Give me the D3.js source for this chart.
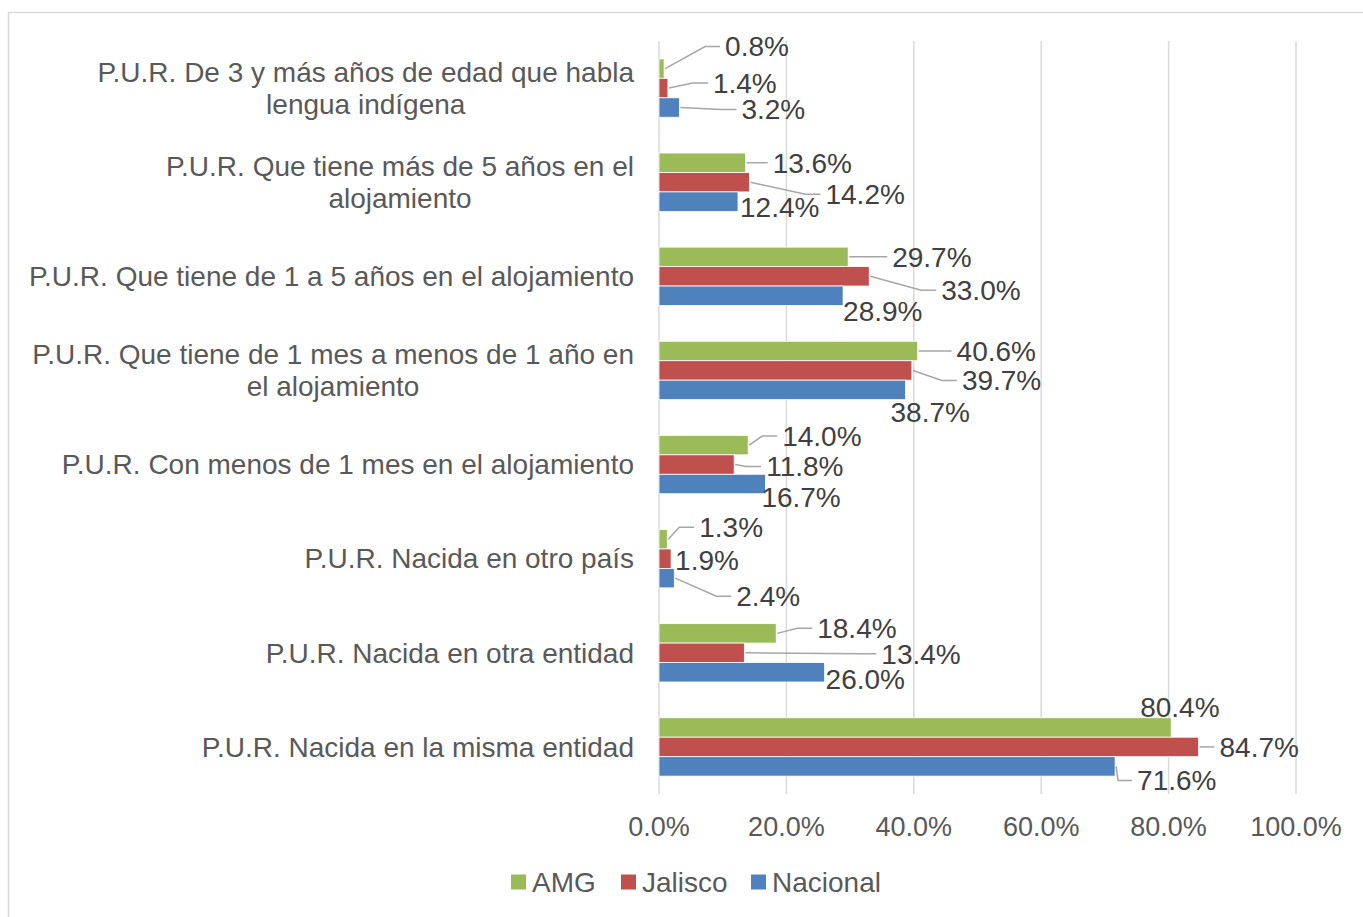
<!DOCTYPE html>
<html>
<head>
<meta charset="utf-8">
<script src="https://cdn.jsdelivr.net/npm/d3@7"></script>
<style>
  body { margin: 0; background: #fff; }
  text { font-family: "Liberation Sans", Arial, sans-serif; }
</style>
</head>
<body>
<div id="vis"></div>
<script>
const width = 1363;
const height = 917;

// categories, top to bottom as they appear
const categories = [
  ["P.U.R. De 3 y más años de edad que habla", "lengua indígena"],
  ["P.U.R. Que tiene más de 5 años en el", "alojamiento"],
  ["P.U.R. Que tiene de 1 a 5 años en el alojamiento"],
  ["P.U.R. Que tiene de 1 mes a menos de 1 año en", "el alojamiento"],
  ["P.U.R. Con menos de 1 mes en el alojamiento"],
  ["P.U.R. Nacida en otro país"],
  ["P.U.R. Nacida en otra entidad"],
  ["P.U.R. Nacida en la misma entidad"]
];

const seriesNames = ["AMG", "Jalisco", "Nacional"];
const amg      = [0.8, 13.6, 29.7, 40.6, 14.0, 1.3, 18.4, 80.4];
const jalisco  = [1.4, 14.2, 33.0, 39.7, 11.8, 1.9, 13.4, 84.7];
const nacional = [3.2, 12.4, 28.9, 38.7, 16.7, 2.4, 26.0, 71.6];
const xTicks = [0, 20, 40, 60, 80, 100];

// where Excel dragged each data label: [dx from bar end, dy from bar middle]
const labelNudge = [
  [[61, -22], [45, -5], [62, 2]],
  [[27, 0], [76, 12], [2, 6]],
  [[44, 0], [72, 14], [0, 15]],
  [[39, 0], [50, 10], [-15, 22]],
  [[34, -9], [32, 2], [-4, 13]],
  [[32, -12], [4, 2], [62, 18]],
  [[41, -5], [137, 1], [1, 7]],
  [[-31, -20], [21, 0], [22, 14]]
];

const colors = ["#9BBB59", "#C0504D", "#4F81BD"];
const seriesValues = [amg, jalisco, nacional];

const svg = d3.select("#vis").append("svg")
  .attr("width", width)
  .attr("height", height);

// chart area border
svg.append("rect")
  .attr("x", 8.5).attr("y", 12.5)
  .attr("width", width).attr("height", height)
  .attr("fill", "#fff")
  .attr("stroke", "#d9d9d9")
  .attr("stroke-width", 1.5);

const plot = { left: 659, right: 1296, top: 41, bottom: 794 };

const x = d3.scaleLinear().domain([0, 100]).range([plot.left, plot.right]);
const y = d3.scaleBand()
  .domain(d3.range(categories.length))
  .range([plot.top, plot.bottom])
  .paddingInner(0.38)
  .paddingOuter(0.19);
const ySub = d3.scaleBand().domain(d3.range(3)).range([0, y.bandwidth()]);

// gridlines
svg.append("g")
  .selectAll("line")
  .data(xTicks)
  .join("line")
  .attr("x1", d => x(d)).attr("x2", d => x(d))
  .attr("y1", plot.top).attr("y2", plot.bottom)
  .attr("stroke", "#d9d9d9")
  .attr("stroke-width", 1.5);

// x tick labels
svg.append("g")
  .selectAll("text")
  .data(xTicks)
  .join("text")
  .attr("x", d => x(d))
  .attr("y", 827)
  .attr("dy", "0.35em")
  .attr("text-anchor", "middle")
  .attr("font-size", 27)
  .attr("fill", "#595959")
  .text(d => d3.format(".1f")(d) + "%");

// category labels (two-line ones are centred on their own block)
const catG = svg.append("g")
  .selectAll("text")
  .data(categories)
  .join("text")
  .attr("font-size", 28)
  .attr("fill", "#595959");

catG.each(function(lines, i) {
  const cy = y(i) + y.bandwidth() / 2;
  const lh = 32;
  const spans = d3.select(this).selectAll("tspan")
    .data(lines)
    .join("tspan")
    .attr("y", (d, j) => cy + (j - (lines.length - 1) / 2) * lh)
    .attr("dy", "0.35em")
    .attr("text-anchor", lines.length > 1 ? "middle" : "end")
    .attr("x", 634)
    .text(d => d);
  if (lines.length > 1) {
    const w = d3.max(spans.nodes(), s => s.getComputedTextLength());
    spans.attr("x", 634 - w / 2);
  }
});

// bars
const rows = [];
categories.forEach((c, i) => {
  seriesValues.forEach((vals, s) => {
    rows.push({ i, s, v: vals[i], nudge: labelNudge[i][s] });
  });
});

svg.append("g")
  .selectAll("rect")
  .data(rows)
  .join("rect")
  .attr("x", x(0))
  .attr("y", d => y(d.i) + ySub(d.s))
  .attr("width", d => x(d.v) - x(0))
  .attr("height", ySub.bandwidth())
  .attr("fill", d => colors[d.s])
  .attr("stroke", "#fff")
  .attr("stroke-width", 0.8);

// leader lines
svg.append("g")
  .selectAll("path")
  .data(rows.filter(d => d.nudge[0] >= 15))
  .join("path")
  .attr("fill", "none")
  .attr("stroke", "#a6a6a6")
  .attr("stroke-width", 1.5)
  .attr("d", d => {
    const x0 = x(d.v) + 1;
    const y0 = y(d.i) + ySub(d.s) + ySub.bandwidth() / 2;
    const lx = x(d.v) + d.nudge[0];
    const ly = y0 + d.nudge[1];
    const knee = Math.max(x0 + 2, lx - 20);
    return `M${x0},${y0}L${knee},${ly}L${lx - 5},${ly}`;
  });

// data labels
svg.append("g")
  .selectAll("text")
  .data(rows)
  .join("text")
  .attr("x", d => x(d.v) + d.nudge[0])
  .attr("y", d => y(d.i) + ySub(d.s) + ySub.bandwidth() / 2 + d.nudge[1])
  .attr("dy", "0.35em")
  .attr("font-size", 28)
  .attr("fill", "#404040")
  .text(d => d3.format(".1f")(d.v) + "%");

// legend
const legendX = [511, 621, 751];
const legend = svg.append("g")
  .selectAll("g")
  .data(seriesNames)
  .join("g")
  .attr("transform", (d, i) => `translate(${legendX[i]},882)`);

legend.append("rect")
  .attr("x", 0).attr("y", -7.5)
  .attr("width", 15).attr("height", 15)
  .attr("fill", (d, i) => colors[i]);

legend.append("text")
  .attr("x", 21)
  .attr("dy", "0.35em")
  .attr("font-size", 28)
  .attr("fill", "#595959")
  .text(d => d);
</script>
</body>
</html>
